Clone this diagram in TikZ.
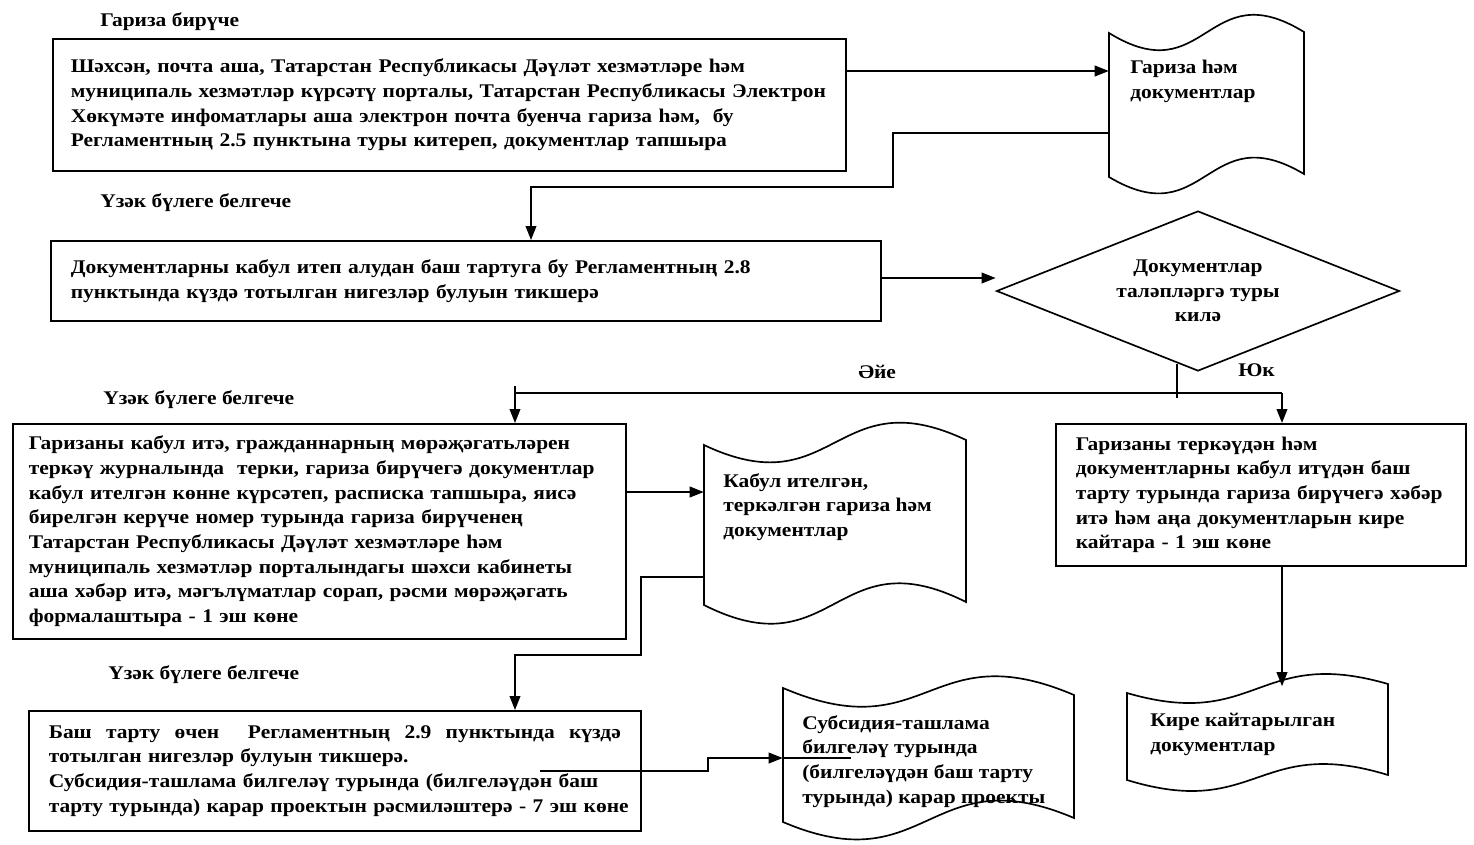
\documentclass[tikz,border=0pt]{standalone}
\usepackage{fontspec}
\setmainfont{Liberation Serif}[FakeStretch=1.11]
\usetikzlibrary{shapes.geometric,arrows.meta}
\newcommand\mydoc[8]{%
 \draw[ln] (#1,#3) .. controls ({(#1+#2)/2},{#3+#7}) and ({(#1+#2)/2},{#4-#7}) .. (#2,#4)
   -- (#2,#6) .. controls ({(#1+#2)/2},{#6-#8}) and ({(#1+#2)/2},{#5+#8}) .. (#1,#5) -- cycle;}
\begin{document}
\begin{tikzpicture}[x=0.75pt,y=-0.75pt,
  font=\bfseries\fontsize{14.5}{18.5}\selectfont,
  ln/.style={line width=1.25pt},
  box/.style={draw,ln,rectangle,anchor=north west,align=left,inner ysep=0pt},
  docn/.style={inner sep=0pt,rectangle},
  txt/.style={anchor=north west,inner sep=0pt,align=left},
  arr/.style={ln,-{Triangle[length=10.5pt,width=8pt]}}]
\useasboundingbox (0,0) rectangle (1474,844);
\fill[white] (0,0) rectangle (1474,844);

% labels
\node[txt] (l1) at (100,12) {Гариза бирүче};
\node[txt] (l2) at (100,193) {Үзәк бүлеге белгече};
\node[txt] (l3) at (103,390) {Үзәк бүлеге белгече};
\node[txt] (l4) at (108,665) {Үзәк бүлеге белгече};
\node[txt] (yes) at (858,365) {Әйе};
\node[txt] (no) at (1238,363) {Юк};

% boxes
\node[box,minimum width=594.75pt,minimum height=99pt,inner xsep=13.5pt,text width=567.75pt] (box1) at (52,38)
 {Шәхсән, почта аша, Татарстан Республикасы Дәүләт хезмәтләре һәм\\
  муниципаль хезмәтләр күрсәтү порталы, Татарстан Республикасы Электрон\\
  Хөкүмәте инфоматлары аша электрон почта буенча гариза һәм,\ \ бу\\
  Регламентның 2.5 пунктына туры китереп, документлар тапшыра};
\node[box,minimum width=622.5pt,minimum height=60pt,inner xsep=15pt,text width=592.5pt] (box2) at (50,240)
 {Документларны кабул итеп алудан баш тартуга бу Регламентның 2.8\\
  пунктында күздә тотылган нигезләр булуын тикшерә};
\node[box,minimum width=459.75pt,minimum height=161.25pt,inner xsep=12pt,text width=435.75pt] (box3) at (12,423)
 {Гаризаны кабул итә, гражданнарның мөрәҗәгатьләрен\\
  теркәү журналында\ \ терки, гариза бирүчегә документлар\\
  кабул ителгән көнне күрсәтеп, расписка тапшыра, яисә\\
  бирелгән керүче номер турында гариза бирүченең\\
  Татарстан Республикасы Дәүләт хезмәтләре һәм\\
  муниципаль хезмәтләр порталындагы шәхси кабинеты\\
  аша хәбәр итә, мәгълүматлар сорап, рәсми мөрәҗәгать\\
  формалаштыра - 1 эш көне};
\node[box,minimum width=307.5pt,minimum height=106.5pt,inner xsep=15pt,text width=277.5pt] (box4) at (1055,423)
 {Гаризаны теркәүдән һәм\\
  документларны кабул итүдән баш\\
  тарту турында гариза бирүчегә хәбәр\\
  итә һәм аңа документларын кире\\
  кайтара - 1 эш көне};
\node[box,minimum width=459pt,minimum height=90pt,inner xsep=15pt,text width=429pt] (box5) at (28,710)
 {\hbox to 429pt{Баш\hfill тарту\hfill өчен\hfill\hfill Регламентның\hfill 2.9\hfill пунктында\hfill күздә}\\
  тотылган нигезләр булуын тикшерә.\\
  Субсидия-ташлама билгеләү турында (билгеләүдән баш\\
  \hbox to 429pt{тарту турында) карар проектын рәсмиләштерә - 7 эш көне}};

% decision
\node[draw,ln,diamond,aspect=2.5,inner sep=0pt,minimum width=302.25pt,minimum height=120pt,align=center] (dia) at (1198,291)
 {Документлар\\таләпләргә туры\\килә};

% documents
\mydoc{1109}{1304}{33}{32}{177}{174}{60}{58}
\node[docn,minimum width=146.25pt,minimum height=107.25pt] (doc1) at (1206.5,104.5) {};
\node[txt] (doc1t) at (1130,60) {Гариза һәм\\документлар};

\mydoc{704}{966}{445}{440}{605}{602}{62}{66}
\node[docn,minimum width=196.5pt,minimum height=121.5pt] (doc2) at (835,523) {};
\node[txt] (doc2t) at (723,473) {Кабул ителгән,\\теркәлгән гариза һәм\\документлар};

\mydoc{1127}{1388}{693}{684}{780}{775}{38}{40}
\node[docn,minimum width=195.75pt,minimum height=69.75pt] (doc4) at (1257.5,733) {};
\node[txt] (doc4t) at (1150,713) {Кире кайтарылган\\документлар};

\mydoc{783}{1074}{688}{695}{822}{818}{62}{62}
\node[docn,minimum width=218.25pt,minimum height=100.5pt] (doc5) at (928.5,755) {};
\node[txt] (doc5t) at (802,715) {Субсидия-ташлама\\билгеләү турында\\(билгеләүдән баш тарту\\турында) карар проекты};

% connectors
\coordinate (h1) at (0,71);
\draw[arr] (box1.east |- h1) -- (doc1.west |- h1);
\coordinate (h2) at (893,133);
\coordinate (h3) at (531,187);
\draw[arr] (doc1.west |- h2) -- (h2) |- (h3) -- (h3 |- box2.north);
\coordinate (h4) at (0,278);
\draw[arr] (box2.east |- h4) -- (dia.west |- h4);
\coordinate (jl) at (515,386);
\coordinate (jy) at (0,393);
\coordinate (jr) at (1282,393);
\draw[ln] (dia.-106) -- (dia.-106 |- jy) -- ++(0,5);
\draw[ln] (jl |- jy) -- (jr);
\draw[arr] (jl) -- (jl |- box3.north);
\draw[arr] (jr) -- (jr |- box4.north);
\coordinate (h5) at (0,492);
\draw[arr] (box3.east |- h5) -- (doc2.west |- h5);
\coordinate (h6) at (641,577);
\coordinate (h66) at (515,655);
\draw[arr] (doc2.west |- h6) -- (h6) |- (h66) -- (h66 |- box5.north);
\draw[arr] (box4.south -| jr) -- (jr |- doc4.north);
\coordinate (h7) at (540,771);
\coordinate (h8) at (708,758);
\draw[arr] (h7) -| (h8) -- (doc5.west |- h8);
\draw[ln] (doc5.west |- h8) -- ++(68,0);
\end{tikzpicture}
\end{document}
